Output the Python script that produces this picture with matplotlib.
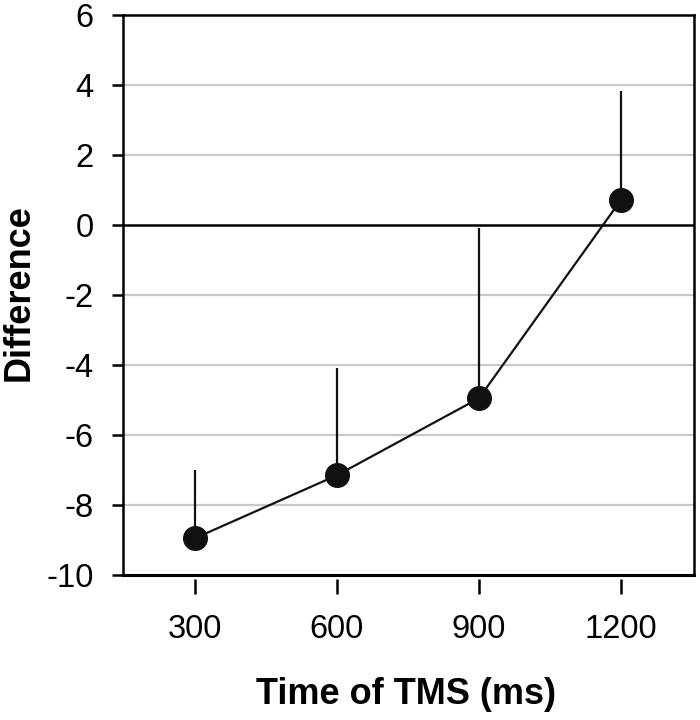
import numpy as np
import matplotlib.pyplot as plt

plt.rcParams['font.family'] = ['Liberation Sans', 'DejaVu Sans']
plt.rcParams['axes.unicode_minus'] = False

# data
tms_time = [300, 600, 900, 1200]
difference = [-8.95, -7.15, -4.95, 0.72]
err_upper = [1.95, 3.05, 4.85, 3.1]
y_ticks = [6, 4, 2, 0, -2, -4, -6, -8, -10]

fig = plt.figure(figsize=(7, 7.2), dpi=100)
ax = fig.add_axes([0.1757, 0.2014, 0.8157, 0.7778])

# light grid lines and the zero line
for y in y_ticks:
    if y in (6, -10):
        continue
    if y == 0:
        ax.axhline(0, color='black', lw=1.8, zorder=2)
    else:
        ax.axhline(y, color='#c8c8c8', lw=1.6, zorder=1)

# one-sided (upper) error bars
ax.errorbar(tms_time, difference, yerr=[np.zeros(4), err_upper], fmt='none',
            ecolor='#111111', elinewidth=1.6, capsize=0, zorder=3)
ax.plot(tms_time, difference, color='#111111', lw=1.6, marker='o',
        markersize=17, markerfacecolor='#111111', markeredgecolor='#111111',
        zorder=4)

ax.set_xlim(148, 1354)
ax.set_ylim(-10, 6)
ax.set_yticks(y_ticks)
ax.set_xticks(tms_time)

for s in ['left', 'top', 'right']:
    ax.spines[s].set_linewidth(1.8)
ax.spines['bottom'].set_position(('outward', 3))
ax.spines['bottom'].set_visible(False)
ax.axhline(-10, color='black', lw=2.2, clip_on=False, zorder=5)

ax.tick_params(axis='y', direction='out', length=8, width=1.8,
               labelsize=23.5, pad=13)
ax.tick_params(axis='x', direction='out', length=11, width=1.8,
               labelsize=23.5, pad=14)

fig.text(19 / 700, 1 - 293 / 720, 'Difference', rotation=90, fontsize=26,
         fontweight='bold', ha='center', va='center')
fig.text(406 / 700, 1 - 694 / 720, 'Time of TMS (ms)', fontsize=26,
         fontweight='bold', ha='center', va='center')

fig.savefig('out.png', dpi=100)
